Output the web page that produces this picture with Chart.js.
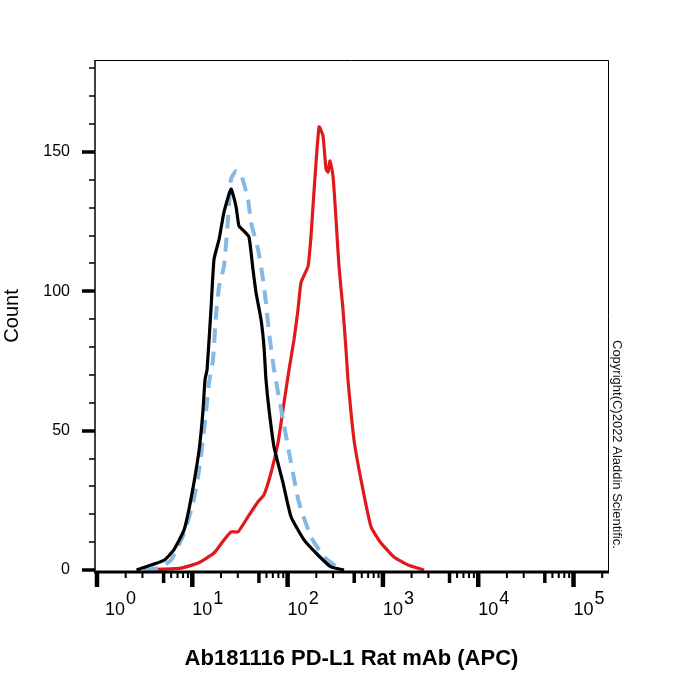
<!DOCTYPE html>
<html>
<head>
<meta charset="utf-8">
<script src="https://cdn.jsdelivr.net/npm/chart.js@4.4.1/dist/chart.umd.min.js"></script>
<style>
  html, body { margin: 0; padding: 0; background: #fff; }
</style>
</head>
<body>
<canvas id="histo" width="700" height="700"></canvas>
<script>
// unstained / isotype (black)
const blackX = [2.6, 3.7, 5.1, 6.4, 8.2, 9.2, 10.4, 11.8, 12.9, 13.6, 14.3, 15.7, 16.9, 19.1, 21.5, 25.5, 28.7, 30.9, 34.9, 39.4, 43.3, 46.6, 52.6, 56.5, 59.3, 63.8, 72, 89.5, 108.6, 148.7, 208, 285, 391];
const blackY = [0, 1.8, 3.6, 7.2, 14.4, 21.6, 31.3, 43.2, 56.5, 68.3, 72, 93.5, 111.5, 118.7, 128.4, 136.7, 130.6, 123.4, 121.6, 119.4, 107.9, 99.6, 89.9, 80.2, 68.3, 57.6, 44.2, 31.3, 19.1, 10.8, 5.4, 1.1, 0];

// control (blue dashed)
const blueX = [3.1, 4.4, 6.0, 8.2, 10.2, 11.8, 13.3, 15.0, 16.5, 17.7, 19.1, 21.5, 23.7, 25.5, 28.7, 32.4, 38.4, 41.3, 48.9, 55.2, 59.3, 63.8, 72, 89.5, 108.6, 131.8, 176, 241, 307, 363];
const blueY = [0, 0.7, 3.6, 13.3, 24.1, 36, 50.4, 67.3, 75.5, 91, 101.8, 109, 125.9, 140.3, 143.2, 142.1, 133.1, 124.8, 115.1, 104.3, 96, 85.3, 71.9, 54, 38.5, 24.1, 11.9, 4.7, 1.8, 0];

// PD-L1 stained (red)
const redX = [3.1, 7.6, 11.5, 16.9, 21.5, 25.5, 30.2, 38.4, 48.9, 56.5, 67, 79.3, 89.5, 103.5, 116.8, 128.6, 138.4, 163.8, 176, 189, 213.6, 235, 253, 265.5, 278.6, 299.5, 322, 346, 381, 410, 430, 497, 589, 750, 955, 1306, 1832, 2700];
const redY = [0, 0.7, 2.5, 6.1, 10.8, 13.7, 13.7, 19.1, 24.5, 27, 34.9, 45.7, 57.6, 71.9, 82.7, 93.5, 103.2, 109, 119.8, 135.6, 159, 155.8, 143.9, 142.8, 146.8, 141.4, 125.9, 109, 93.5, 79.1, 68.3, 46.8, 32.4, 15.5, 9.7, 4.7, 1.8, 0];

const yLabels = ['0', '50', '100', '150'];
const xDecades = [1, 10, 100, 1000, 10000, 100000];
const xExponents = ['0', '1', '2', '3', '4', '5'];
const minorSteps = [2, 3, 5, 6, 7, 8, 9];

const FONT = '"Liberation Sans", Arial, sans-serif';

const pts = (xs, ys) => xs.map((v, i) => ({ x: v, y: ys[i] }));

// ticks, frame, decade labels and the side note
const axisDeco = {
  id: 'axisDeco',
  afterDraw(chart) {
    const { ctx, chartArea: a, scales: { x, y } } = chart;
    ctx.save();
    ctx.strokeStyle = '#000';
    ctx.fillStyle = '#000';

    // frame top/right thin
    ctx.lineWidth = 1;
    ctx.beginPath();
    ctx.moveTo(a.left, a.top + 0.5);
    ctx.lineTo(a.right + 0.5, a.top + 0.5);
    ctx.lineTo(a.right + 0.5, a.bottom);
    ctx.stroke();
    // left axis
    ctx.lineWidth = 1.5;
    ctx.beginPath();
    ctx.moveTo(a.left, a.top);
    ctx.lineTo(a.left, a.bottom);
    ctx.stroke();
    // bottom axis
    ctx.lineWidth = 3;
    ctx.beginPath();
    ctx.moveTo(a.left - 1, a.bottom);
    ctx.lineTo(a.right + 1, a.bottom);
    ctx.stroke();

    // y ticks
    y.ticks.forEach(t => {
      const py = Math.round(y.getPixelForValue(t.value));
      const major = yLabels.includes(String(t.value));
      ctx.lineWidth = major ? 3.5 : 1.5;
      ctx.beginPath();
      ctx.moveTo(a.left - (major ? 13 : 6), py);
      ctx.lineTo(a.left, py);
      ctx.stroke();
    });

    // x ticks + labels
    const xmax = x.max;
    xDecades.forEach((d, i) => {
      const px = x.getPixelForValue(d);
      ctx.lineWidth = 4.5;
      ctx.beginPath();
      ctx.moveTo(px, a.bottom);
      ctx.lineTo(px, a.bottom + 15);
      ctx.stroke();
      minorSteps.forEach(m => {
        const v = d * m;
        if (v > xmax) return;
        const mx = x.getPixelForValue(v);
        const mid = m === 5;
        ctx.lineWidth = mid ? 3.5 : 2;
        ctx.beginPath();
        ctx.moveTo(mx, a.bottom);
        ctx.lineTo(mx, a.bottom + (mid ? 11 : 6));
        ctx.stroke();
      });
      // label "10" + raised exponent
      const lx = Math.max(px, a.left + 10);
      ctx.textAlign = 'left';
      ctx.textBaseline = 'alphabetic';
      ctx.font = '18px ' + FONT;
      ctx.fillText('10', lx, 615);
      const w = ctx.measureText('10').width;
      ctx.font = '18px ' + FONT;
      ctx.fillText(xExponents[i], lx + w + 1, 604);
    });

    // side note
    ctx.translate(617, 340);
    ctx.rotate(Math.PI / 2);
    ctx.font = '13px ' + FONT;
    ctx.textAlign = 'left';
    ctx.textBaseline = 'middle';
    ctx.fillStyle = '#111';
    ctx.fillText('Copyright(C)2022 Aladdin Scientific.', 0, 0);
    ctx.restore();
  }
};

const lineStyle = { showLine: true, pointRadius: 0, tension: 0.15, fill: false };

new Chart(document.getElementById('histo').getContext('2d'), {
  type: 'scatter',
  data: {
    datasets: [
      { ...lineStyle, data: pts(blackX, blackY), borderColor: '#000000', borderWidth: 3.2 },
      { ...lineStyle, data: pts(blueX, blueY), borderColor: '#84b9e6', borderWidth: 4, borderDash: [14, 9] },
      { ...lineStyle, data: pts(redX, redY), borderColor: '#e01a1c', borderWidth: 3.2 }
    ]
  },
  options: {
    responsive: false,
    animation: false,
    devicePixelRatio: 1,
    layout: { padding: { left: 0, top: 60, right: 92, bottom: 0 } },
    plugins: { legend: { display: false }, tooltip: { enabled: false } },
    scales: {
      x: {
        type: 'logarithmic',
        min: 0.953,
        max: 230000,
        border: { display: false },
        grid: { display: false, drawTicks: false },
        ticks: { display: false },
        title: {
          display: true,
          text: 'Ab181116 PD-L1 Rat mAb (APC)',
          color: '#000',
          font: { family: FONT, size: 22, weight: 'bold' },
          padding: { top: 0, bottom: 28 }
        },
        afterFit(s) { s.height = 128; }
      },
      y: {
        min: -0.7,
        max: 183,
        border: { display: false },
        grid: { display: false, drawTicks: false },
        ticks: {
          stepSize: 10,
          includeBounds: false,
          padding: 25,
          color: '#000',
          font: { family: FONT, size: 16 },
          callback: v => (yLabels.includes(String(v)) ? String(v) : '')
        },
        title: {
          display: true,
          text: 'Count',
          color: '#000',
          font: { family: FONT, size: 20 },
          padding: { top: 0, bottom: 0 }
        },
        afterFit(s) { s.width = 95; }
      }
    }
  },
  plugins: [axisDeco]
});
</script>
</body>
</html>
